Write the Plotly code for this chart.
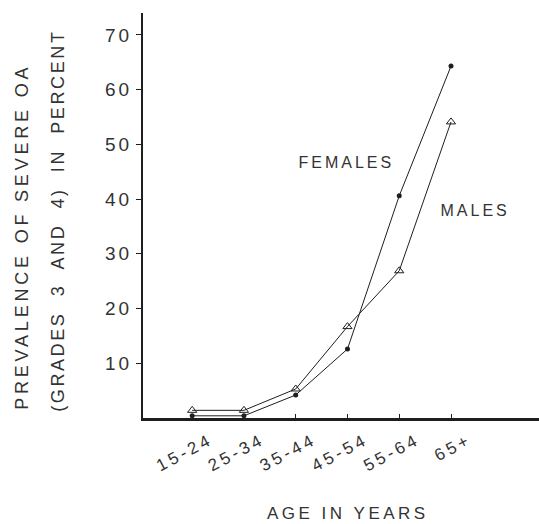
import plotly.graph_objects as go

age_groups = ["15-24", "25-34", "35-44", "45-54", "55-64", "65+"]
females = [0.4, 0.4, 4.2, 12.6, 40.6, 64.3]
males = [1.4, 1.4, 5.3, 16.7, 26.9, 54.1]
y_ticks = [10, 20, 30, 40, 50, 60, 70]

x_pos = list(range(len(age_groups)))
ink = "#1e1e1e"
txt = "#333333"
font_family = "Liberation Sans, Arial, sans-serif"

fig = go.Figure()
fig.add_trace(go.Scatter(
    x=x_pos, y=females, mode="lines+markers", name="FEMALES",
    line=dict(color=ink, width=1),
    marker=dict(symbol="circle", size=5, color=ink),
))
fig.add_trace(go.Scatter(
    x=x_pos, y=males, mode="lines+markers", name="MALES",
    line=dict(color=ink, width=1),
    marker=dict(symbol="triangle-up-open", size=8, color=ink, line=dict(width=1)),
))

fig.add_annotation(x=2.99, y=46.6, text="FEMALES", showarrow=False,
                   font=dict(family=font_family, size=16, color=txt))
fig.add_annotation(x=5.46, y=38.0, text="MALES", showarrow=False,
                   font=dict(family=font_family, size=16, color=txt))

# axis titles (two widely spaced lines on y)
fig.add_annotation(xref="paper", yref="paper", x=-0.3056, y=0.449,
                   xanchor="center", yanchor="middle",
                   text="PREVALENCE OF SEVERE OA", textangle=-90, showarrow=False,
                   font=dict(family=font_family, size=18, color=txt))
fig.add_annotation(xref="paper", yref="paper", x=-0.2146, y=0.486,
                   xanchor="center", yanchor="middle",
                   text="(GRADES  3  AND  4)  IN  PERCENT", textangle=-90, showarrow=False,
                   font=dict(family=font_family, size=18, color=txt))
fig.add_annotation(xref="paper", yref="paper", x=0.518, y=-0.237,
                   xanchor="center", yanchor="middle",
                   text="AGE IN YEARS", showarrow=False,
                   font=dict(family=font_family, size=17, color=txt))

fig.update_layout(
    width=539, height=524,
    margin=dict(l=143, r=0, t=13, b=106),
    paper_bgcolor="white", plot_bgcolor="white",
    showlegend=False,
    font=dict(family=font_family, color=txt),
)
fig.update_xaxes(
    range=[-0.95, 6.7], tickvals=x_pos, ticktext=age_groups,
    tickangle=-28, tickfont=dict(size=17, color=txt),
    ticklabelshift=18, ticklabelstandoff=3,
    showline=True, linecolor=ink, linewidth=2.5,
    ticks="inside", ticklen=4, tickcolor=ink,
    showgrid=False, zeroline=False,
)
fig.update_yaxes(
    range=[0, 74], tickvals=y_ticks,
    tickfont=dict(size=19, color=txt),
    showline=True, linecolor=ink, linewidth=2.2,
    ticks="outside", ticklen=5, tickcolor=ink,
    showgrid=False, zeroline=False,
)

post = """
document.body.style.margin = '0';
var gd = document.getElementById('{plot_id}');
function spread(sel, px) {
  gd.querySelectorAll(sel).forEach(function(e) { e.style.letterSpacing = px; });
}
spread('.xtick text', '3.5px');
spread('.ytick text', '3px');
spread('.annotation-text', '3px');
spread('.annotation[data-index="2"] .annotation-text', '3.8px');
spread('.annotation[data-index="3"] .annotation-text', '2.6px');
spread('.annotation[data-index="4"] .annotation-text', '3.5px');
"""

fig.write_html("out.html", post_script=post, config={"displayModeBar": False})
